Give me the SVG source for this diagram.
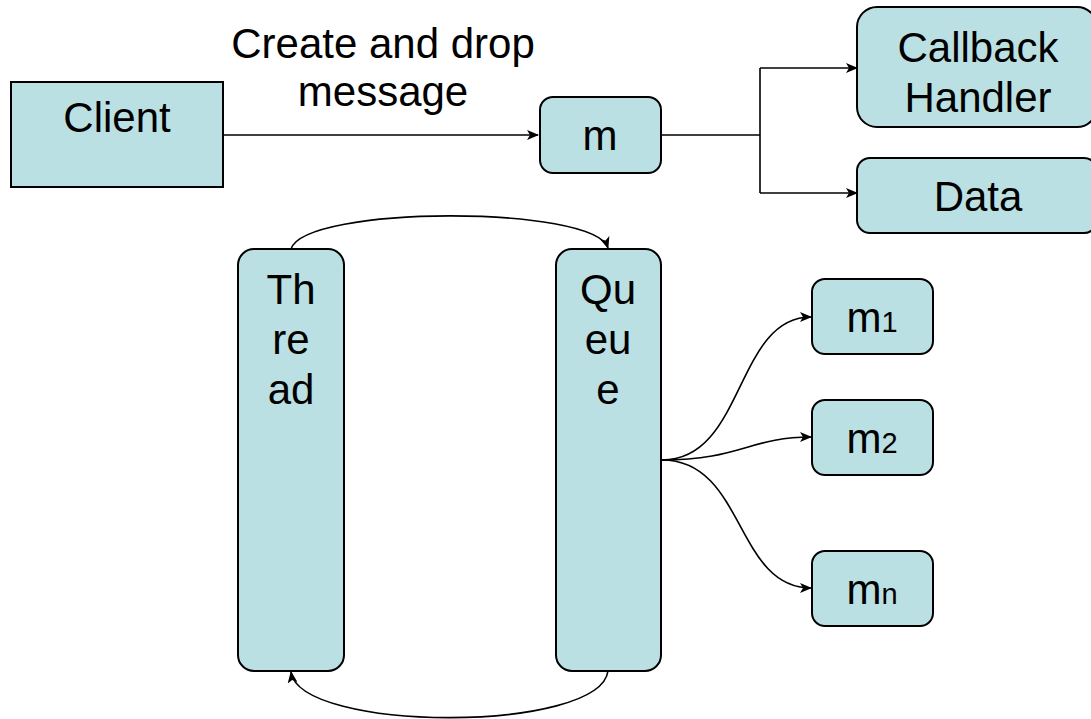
<svg xmlns="http://www.w3.org/2000/svg" width="1091" height="719" viewBox="0 0 1091 719">
<style>
.box{fill:#BBE0E3;stroke:#000;stroke-width:2}
.t{font-family:"Liberation Sans",Arial,sans-serif;font-size:42px;fill:#000;text-anchor:middle}
.sub{font-size:29px}
.c{fill:none;stroke:#000;stroke-width:1.6}
</style>
<defs>
<marker id="ah" markerUnits="userSpaceOnUse" markerWidth="12" markerHeight="10" refX="11" refY="5" orient="auto">
<path d="M0,0 L12,5 L0,10 L3,5 z" fill="#000"/>
</marker>
</defs>
<rect width="1091" height="719" fill="#fff"/>
<g id="connectors">
<path class="c" d="M223,135 H538" marker-end="url(#ah)"/>
<path class="c" d="M661,135 H760 M760,68 V193" stroke-width="2"/>
<path class="c" d="M760,68 H857" marker-end="url(#ah)"/>
<path class="c" d="M760,193 H857" marker-end="url(#ah)"/>
<path class="c" d="M291,249 C305,205 594,205 608,248" marker-end="url(#ah)"/>
<path class="c" d="M608,671 C600,733 300,733 291,672" marker-end="url(#ah)"/>
<path class="c" d="M662,460 C745,460 735,317 811,317" marker-end="url(#ah)"/>
<path class="c" d="M662,460 C740,460 750,437 811,437" marker-end="url(#ah)"/>
<path class="c" d="M662,460 C745,460 735,588 811,588" marker-end="url(#ah)"/>
</g>
<g id="client"><rect class="box" x="11" y="82" width="212" height="105"/><text class="t" x="117" y="132">Client</text></g>
<g id="label"><text class="t" x="383" y="58">Create and drop</text><text class="t" x="383" y="106">message</text></g>
<g id="m"><rect class="box" x="540" y="97" width="121" height="76" rx="13"/><text class="t" x="600" y="150">m</text></g>
<g id="callback"><rect class="box" x="857" y="7" width="240" height="120" rx="20"/><text class="t" x="978" y="62">Callback</text><text class="t" x="978" y="112">Handler</text></g>
<g id="data"><rect class="box" x="857" y="158" width="240" height="75" rx="13"/><text class="t" x="978" y="211">Data</text></g>
<g id="thread"><rect class="box" x="238" y="249" width="106" height="422" rx="16"/><text class="t" x="291" y="304">Th</text><text class="t" x="291" y="354">re</text><text class="t" x="291" y="404">ad</text></g>
<g id="queue"><rect class="box" x="556" y="249" width="105" height="422" rx="16"/><text class="t" x="608" y="304">Qu</text><text class="t" x="608" y="354">eu</text><text class="t" x="608" y="404">e</text></g>
<g id="m1"><rect class="box" x="812" y="279" width="121" height="75" rx="13"/><text class="t" x="872" y="332">m<tspan class="sub">1</tspan></text></g>
<g id="m2"><rect class="box" x="812" y="400" width="121" height="75" rx="13"/><text class="t" x="872" y="453">m<tspan class="sub">2</tspan></text></g>
<g id="mn"><rect class="box" x="812" y="551" width="121" height="75" rx="13"/><text class="t" x="872" y="604">m<tspan class="sub">n</tspan></text></g>
</svg>
